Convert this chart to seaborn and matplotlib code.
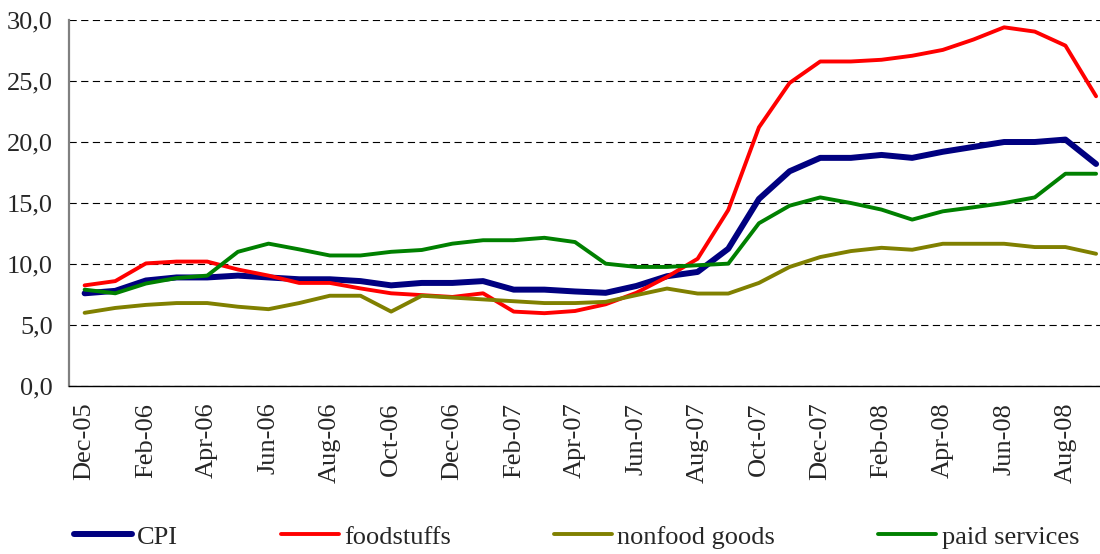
import numpy as np
import pandas as pd
import matplotlib.pyplot as plt
import seaborn as sns
from matplotlib.ticker import FuncFormatter, FixedLocator

# ---------------------------------------------------------------
# data: year-on-year price growth, %, Dec-05 .. Sep-08
# ---------------------------------------------------------------
months = pd.date_range("2005-12-01", "2008-09-01", freq="MS").strftime("%b-%y").tolist()

cpi = [7.6, 7.8, 8.65, 8.9, 8.9, 9.05, 8.9, 8.75, 8.75, 8.6, 8.25, 8.45,
       8.45, 8.6, 7.9, 7.9, 7.75, 7.64, 8.2, 9.0, 9.35, 11.25, 15.33, 17.6,
       18.7, 18.7, 18.94, 18.7, 19.2, 19.6, 20.0, 20.0, 20.2, 18.2]
foodstuffs = [8.25, 8.6, 10.05, 10.2, 10.2, 9.55, 9.05, 8.45, 8.45, 8.0, 7.6, 7.45,
              7.3, 7.6, 6.1, 5.97, 6.15, 6.7, 7.64, 8.94, 10.43, 14.43, 21.2, 24.84,
              26.6, 26.6, 26.74, 27.07, 27.55, 28.4, 29.4, 29.05, 27.9, 23.75]
nonfood = [6.0, 6.4, 6.65, 6.8, 6.8, 6.5, 6.3, 6.8, 7.4, 7.4, 6.1, 7.4,
           7.25, 7.1, 6.95, 6.8, 6.8, 6.9, 7.45, 7.99, 7.58, 7.58, 8.45, 9.76,
           10.57, 11.06, 11.33, 11.17, 11.66, 11.66, 11.66, 11.39, 11.39, 10.84]
services = [7.9, 7.6, 8.4, 8.85, 9.05, 11.0, 11.67, 11.2, 10.7, 10.7, 11.0, 11.15,
            11.67, 11.95, 11.95, 12.15, 11.8, 10.03, 9.76, 9.76, 9.9, 10.03, 13.34, 14.78,
            15.46, 15.0, 14.46, 13.64, 14.32, 14.65, 15.0, 15.46, 17.4, 17.4]

series = ["CPI", "foodstuffs", "nonfood goods", "paid services"]
colors = ["#000080", "#FF0000", "#808000", "#008000"]
widths = [4.3, 2.8, 2.8, 2.8]

df = pd.DataFrame({"idx": np.arange(len(months)), "CPI": cpi, "foodstuffs": foodstuffs,
                   "nonfood goods": nonfood, "paid services": services})

# ---------------------------------------------------------------
# plot
# ---------------------------------------------------------------
sns.set_style("white")
plt.rcParams['font.family'] = ['Liberation Serif', 'DejaVu Serif']

fig = plt.figure(figsize=(11, 5.54), dpi=100)
ax = fig.add_axes([0.063, 0.3032, 0.937, 0.6607])

for name, c, lw in zip(series, colors, widths):
    sns.lineplot(data=df, x="idx", y=name, color=c, linewidth=lw, label=name,
                 ax=ax, solid_capstyle="round", solid_joinstyle="round")

ax.set_ylim(0, 30)
ax.set_xlim(-0.5, -0.5 + (1100 - 69.3) / 30.65)
ax.set_yticks(np.arange(0, 31, 5))
ax.yaxis.set_major_formatter(FuncFormatter(lambda v, p: f"{v:.1f}".replace(".", ",")))

# category ticks between every second month, labels on the months themselves
ax.xaxis.set_major_locator(FixedLocator(np.arange(-0.5, len(months), 2)))
ax.set_xticklabels([])
ax.set_xticks(np.arange(0, len(months), 2), minor=True)
ax.set_xticklabels(months[::2], minor=True, rotation=90, fontsize=19)
ax.tick_params(axis="x", which="major", direction="out", length=6, width=1, color="black")
ax.tick_params(axis="x", which="minor", length=0, pad=12)
ax.tick_params(axis="y", direction="out", length=6, width=1, color="black", pad=6, labelsize=19)

ax.set_xlabel("")
ax.set_ylabel("")

ax.grid(axis="y", color="black", linewidth=0.8, linestyle=(0, (6.5, 4)))
ax.set_axisbelow(True)

for side in ["top", "right"]:
    ax.spines[side].set_visible(False)
ax.spines["left"].set_color("#808080")
ax.spines["left"].set_linewidth(1.6)
ax.spines["bottom"].set_color("black")
ax.spines["bottom"].set_linewidth(1.0)

ax.get_legend().remove()
handles, labels = ax.get_legend_handles_labels()
fig.legend(handles, labels, loc="center", bbox_to_anchor=(0.524, 0.031), ncol=4,
           frameon=False, fontsize=19, handlelength=2.2, handletextpad=0.2,
           columnspacing=3.9)

plt.savefig("out.png", dpi=100)
